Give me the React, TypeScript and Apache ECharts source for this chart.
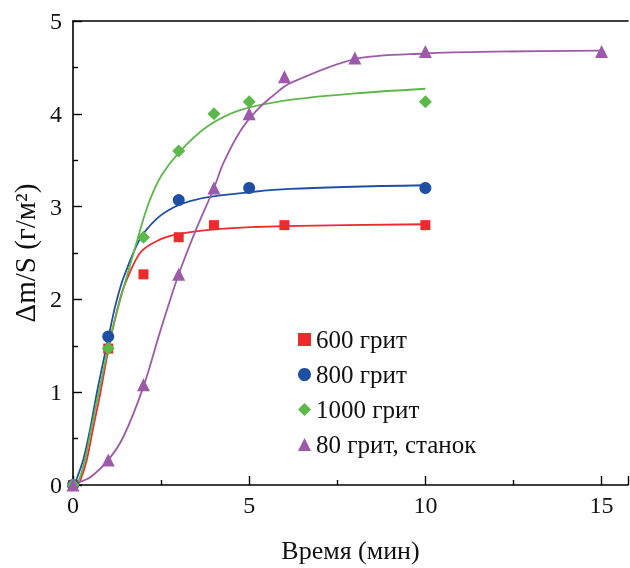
import React, { useEffect, useRef } from "react";
import * as echarts from "echarts";

const seriesNames = ["600 грит", "800 грит", "1000 грит", "80 грит, станок"];
const colors = ["#ee2a2c", "#1f4fa3", "#5db84a", "#9d5aa9"];
const symbols = ["rect", "circle", "diamond", "triangle"];
const symbolSizes = [10, 12, 13, 13];

const pts600 = [[0, 0], [1, 1.47], [2, 2.27], [3, 2.67], [4, 2.8], [6, 2.8], [10, 2.8]];
const pts800 = [[0, 0], [1, 1.6], [3, 3.07], [5, 3.2], [10, 3.2]];
const pts1000 = [[0, 0], [1, 1.47], [2, 2.67], [3, 3.6], [4, 4.0], [5, 4.13], [10, 4.13]];
const pts80 = [[0, 0], [1, 0.27], [2, 1.08], [3, 2.27], [4, 3.2], [5, 4.0], [6, 4.4], [8, 4.6], [10, 4.67], [15, 4.67]];

const fit600 = [[0.12, 0], [0.2, 0.04], [0.39, 0.27], [0.58, 0.63], [0.77, 0.98], [1.0, 1.45], [1.2, 1.8], [1.43, 2.12], [1.9, 2.5], [2.38, 2.63], [2.95, 2.7], [4.18, 2.76], [6, 2.79], [10, 2.81]];
const fit800 = [[0.05, 0], [0.1, 0.06], [0.29, 0.27], [0.48, 0.59], [0.67, 0.98], [0.86, 1.33], [1.0, 1.58], [1.2, 1.93], [1.43, 2.23], [1.9, 2.65], [2.38, 2.87], [2.85, 2.99], [3.32, 3.06], [4.18, 3.12], [6.16, 3.19], [10, 3.23]];
const fit1000 = [[0.08, 0], [0.15, 0.03], [0.34, 0.27], [0.53, 0.63], [0.72, 0.98], [1.0, 1.48], [1.2, 1.8], [1.62, 2.37], [1.84, 2.66], [2.0, 2.87], [2.19, 3.08], [2.5, 3.33], [3, 3.58], [3.8, 3.86], [4.74, 4.04], [6.16, 4.15], [8, 4.22], [10, 4.27]];
const fit80 = [[0, 0], [0.1, 0.02], [0.48, 0.08], [1.0, 0.27], [1.43, 0.52], [2.0, 1.06], [2.47, 1.65], [2.99, 2.26], [3.5, 2.76], [3.99, 3.19], [4.27, 3.47], [4.74, 3.81], [5.22, 4.04], [5.69, 4.2], [6.16, 4.33], [8, 4.59], [10, 4.65], [12, 4.67], [15, 4.68]];

const FONT = "Liberation Serif";

export default function App() {
  const ref = useRef<HTMLDivElement>(null);
  useEffect(() => {
    if (!ref.current) return;
    const chart = echarts.init(ref.current, undefined, { renderer: "svg" });
    const points = [pts600, pts800, pts1000, pts80];
    const fits = [fit600, fit800, fit1000, fit80];
    const xMax = 15.75;
    const series: any[] = [];
    fits.forEach((f, i) => {
      series.push({
        type: "line",
        name: "fit" + i,
        data: f,
        smooth: 0.3,
        showSymbol: false,
        symbol: "none",
        lineStyle: { color: colors[i], width: 1.8 },
        z: 2,
      });
    });
    points.forEach((p, i) => {
      series.push({
        type: "scatter",
        name: seriesNames[i],
        data: p,
        symbol: symbols[i],
        symbolSize: symbolSizes[i],
        itemStyle: { color: colors[i], opacity: 1 },
        z: 3,
      });
    });
    const axisLine = { show: true, lineStyle: { color: "#000", width: 1.6 } };
    chart.setOption({
      animation: false,
      grid: { left: 73, right: 2, top: 21, bottom: 79, containLabel: false },
      legend: {
        data: seriesNames,
        orient: "vertical",
        left: 293,
        top: 322,
        itemWidth: 13,
        itemHeight: 13,
        itemGap: 10,
        textStyle: { fontFamily: FONT, fontSize: 25, color: "#111" },
      },
      xAxis: [
        {
          type: "value",
          min: 0,
          max: xMax,
          interval: 5,
          name: "Время (мин)",
          nameLocation: "middle",
          nameGap: 52,
          nameTextStyle: { fontFamily: FONT, fontSize: 26, color: "#111" },
          axisLine,
          axisTick: { show: true, inside: true, length: 9, lineStyle: { color: "#000", width: 1.4 } },
          minorTick: { show: true, splitNumber: 2, length: 5, lineStyle: { color: "#000", width: 1.4 } },
          splitLine: { show: false },
          axisLabel: {
            fontFamily: FONT,
            fontSize: 24,
            color: "#111",
            margin: 8,
            showMaxLabel: false,
          },
        },
        {
          type: "value",
          position: "top",
          min: 0,
          max: xMax,
          interval: 5,
          axisLine,
          axisTick: { show: false },
          axisLabel: { show: false },
          splitLine: { show: false },
        },
      ],
      yAxis: {
        type: "value",
        min: 0,
        max: 5,
        interval: 1,
        name: "Δm/S (г/м²)",
        nameLocation: "middle",
        nameGap: 30,
        nameRotate: 90,
        nameTextStyle: { fontFamily: FONT, fontSize: 29, color: "#111" },
        axisLine,
        axisTick: { show: true, inside: true, length: 9, lineStyle: { color: "#000", width: 1.4 } },
        minorTick: { show: true, splitNumber: 2, length: 5, lineStyle: { color: "#000", width: 1.4 } },
        splitLine: { show: false },
        axisLabel: {
          fontFamily: FONT,
          fontSize: 24,
          color: "#111",
          margin: 11,
        },
      },
      series,
    });
    return () => chart.dispose();
  }, []);
  return <div ref={ref} style={{ position: "fixed", left: 0, top: 0, width: 630, height: 568 }} />;
}
